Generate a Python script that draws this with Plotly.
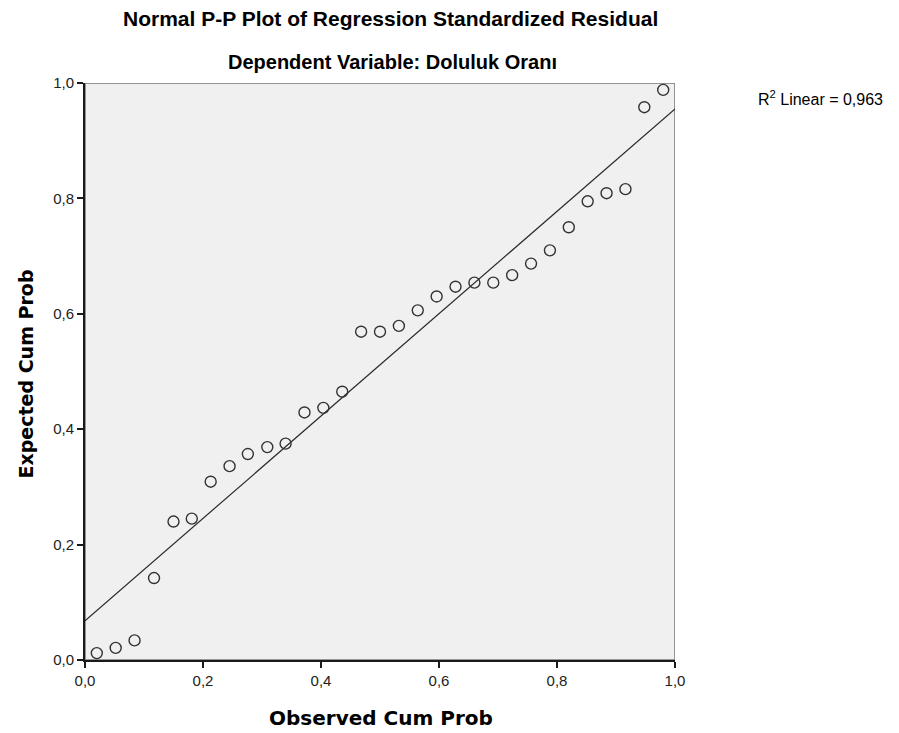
import plotly.graph_objects as go

# Observed cumulative probability (x) and expected cumulative probability (y)
observed_cum_prob = [0.020, 0.052, 0.084, 0.117, 0.150, 0.181, 0.213, 0.245, 0.276, 0.309,
                     0.340, 0.372, 0.404, 0.436, 0.468, 0.500, 0.532, 0.564, 0.596, 0.628,
                     0.660, 0.692, 0.724, 0.756, 0.788, 0.820, 0.852, 0.884, 0.916, 0.948, 0.980]
expected_cum_prob = [0.012, 0.021, 0.034, 0.142, 0.240, 0.245, 0.309, 0.336, 0.357, 0.369,
                     0.375, 0.429, 0.437, 0.465, 0.569, 0.569, 0.579, 0.606, 0.630, 0.647,
                     0.654, 0.654, 0.667, 0.687, 0.710, 0.750, 0.795, 0.809, 0.816, 0.958, 0.988]

# Fit line endpoints (R2 linear)
fit_x = [0.0, 1.0]
fit_y = [0.068, 0.955]

tick_vals = [0.0, 0.2, 0.4, 0.6, 0.8, 1.0]
x_tick_text = ["0,0", "0,2", "0,4", "0,6", "0,8", "1,0"]
y_tick_text = ["0,0", "0,2", "0,4", "0,6", "0,8", "1,0"]

title_main = "Normal P-P Plot of Regression Standardized Residual"
title_sub = "Dependent Variable: Doluluk Oranı"
x_title = "Observed Cum Prob"
y_title = "Expected Cum Prob"
r2_label = "R<sup>2</sup> Linear = 0,963"

FONT = "Liberation Sans, Arial, sans-serif"
AXFONT = "DejaVu Sans, Verdana, sans-serif"

fig = go.Figure()
fig.add_trace(go.Scatter(x=fit_x, y=fit_y, mode="lines",
                         line=dict(color="#2a2a2a", width=1.2),
                         hoverinfo="skip", showlegend=False, cliponaxis=False))
fig.add_trace(go.Scatter(x=observed_cum_prob, y=expected_cum_prob, mode="markers",
                         marker=dict(symbol="circle-open", size=11,
                                     color="#333333", line=dict(width=1.4, color="#333333")),
                         showlegend=False, cliponaxis=False))

# gray frame (top/right)
fig.add_shape(type="rect", xref="x", yref="y", x0=0, x1=1, y0=0, y1=1,
              line=dict(color="#777777", width=1.5), layer="below")

fig.update_layout(
    width=899, height=733,
    margin=dict(l=85, r=224, t=83, b=73, pad=0),
    paper_bgcolor="white",
    plot_bgcolor="#F0F0F0",
    font=dict(family=FONT, color="#000000", size=12),
    showlegend=False,
    xaxis=dict(range=[0, 1], tickvals=tick_vals, ticktext=x_tick_text, automargin=False,
               showgrid=False, zeroline=False, showline=True, linecolor="#1a1a1a",
               linewidth=2, ticks="outside", ticklen=6, tickwidth=2, tickcolor="#1a1a1a",
               tickfont=dict(size=15, family=FONT, color="#222222")),
    yaxis=dict(range=[0, 1], tickvals=tick_vals, ticktext=y_tick_text, automargin=False,
               showgrid=False, zeroline=False, showline=True, linecolor="#1a1a1a",
               linewidth=2, ticks="outside", ticklen=6, tickwidth=2, tickcolor="#1a1a1a",
               tickfont=dict(size=15, family=FONT, color="#222222")),
    annotations=[
        dict(text="<b>" + title_main + "</b>", xref="paper", yref="paper",
             x=(390 - 85) / 590, y=1, xanchor="center", yanchor="middle",
             font=dict(size=21, family=FONT), showarrow=False, yshift=65),
        dict(text="<b>" + title_sub + "</b>", xref="paper", yref="paper",
             x=(392 - 85) / 590, y=1, xanchor="center", yanchor="middle",
             font=dict(size=20, family=FONT), showarrow=False, yshift=21),
        dict(text=r2_label, xref="paper", yref="paper",
             x=(756 - 85) / 590, y=1, xanchor="left", yanchor="middle",
             font=dict(size=16, family=FONT), showarrow=False, yshift=-15),
        dict(text="<b>" + x_title + "</b>", xref="paper", yref="paper",
             x=(381 - 85) / 590, y=0, xanchor="center", yanchor="middle",
             font=dict(size=20, family=AXFONT), showarrow=False, yshift=-58),
        dict(text="<b>" + y_title + "</b>", xref="paper", yref="paper",
             x=0, y=0.5, xanchor="center", yanchor="middle", textangle=-90,
             font=dict(size=19, family=AXFONT), showarrow=False, xshift=-60, yshift=-3),
    ],
)

fig.write_html("out.html")
